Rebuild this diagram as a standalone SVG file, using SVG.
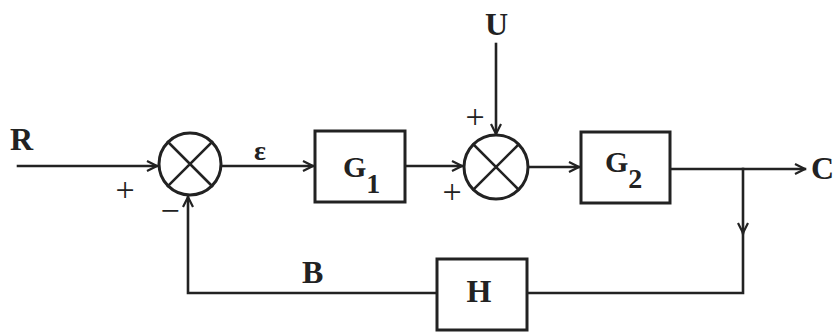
<svg xmlns="http://www.w3.org/2000/svg" width="834" height="333" viewBox="0 0 834 333">
<defs>
<style>
.ln{fill:none;stroke:#222;stroke-width:2.6;stroke-linecap:square}
.bx{fill:#fff;stroke:#222;stroke-width:3}
.sj{fill:#fff;stroke:#222;stroke-width:3}
.t{font-family:"Liberation Serif","DejaVu Serif",serif;font-weight:bold;fill:#222}
.lb{font-size:32px}
.sg{font-size:34px;font-family:"Liberation Serif","DejaVu Serif",serif;fill:#222;text-anchor:middle}
</style>
<marker id="ah" viewBox="0 0 12 12" refX="11" refY="6" markerWidth="12" markerHeight="12" markerUnits="userSpaceOnUse" orient="auto">
<path d="M1,1 L11,6 L1,11" fill="none" stroke="#222" stroke-width="2.2"/>
</marker>
</defs>
<rect width="834" height="333" fill="#fff"/>
<g id="connectors">
<path class="ln" d="M18,166 L157,166" marker-end="url(#ah)"/>
<path class="ln" d="M222,166 L313,166" marker-end="url(#ah)"/>
<path class="ln" d="M406,166 L462,166" marker-end="url(#ah)"/>
<path class="ln" d="M496,44 L496,134" marker-end="url(#ah)"/>
<path class="ln" d="M528,167 L579,167" marker-end="url(#ah)"/>
<path class="ln" d="M670,169 L805,169" marker-end="url(#ah)"/>
<path class="ln" d="M743,169 L743,233" marker-end="url(#ah)"/>
<path class="ln" d="M743,230 L743,293 L528,293"/>
<path class="ln" d="M437,293 L188,293 L188,197" marker-end="url(#ah)"/>
</g>
<g id="sum1">
<circle class="sj" cx="190" cy="164" r="31"/>
<path class="ln" d="M168,142 L212,186 M212,142 L168,186"/>
</g>
<g id="sum2">
<circle class="sj" cx="496" cy="167" r="32"/>
<path class="ln" d="M473.5,144.5 L518.5,189.5 M518.5,144.5 L473.5,189.5"/>
</g>
<g id="G1">
<rect class="bx" x="315" y="131" width="90" height="71"/>
<text class="t" x="343" y="177" font-size="30">G<tspan font-size="28" dy="16">1</tspan></text>
</g>
<g id="G2">
<rect class="bx" x="581" y="132" width="89" height="71"/>
<text class="t" x="605" y="172" font-size="30">G<tspan font-size="28" dy="16">2</tspan></text>
</g>
<g id="H">
<rect class="bx" x="437" y="259" width="90" height="71"/>
<text class="t lb" x="479" y="302" text-anchor="middle">H</text>
</g>
<g id="labels">
<text class="t lb" x="10" y="150">R</text>
<text class="t" x="254" y="160" font-size="28">ε</text>
<text class="t lb" x="485" y="35">U</text>
<text class="t lb" x="811" y="179">C</text>
<text class="t lb" x="302" y="283">B</text>
<text class="sg" x="125" y="201">+</text>
<text class="sg" x="170" y="222">−</text>
<text class="sg" x="475" y="128">+</text>
<text class="sg" x="452" y="203">+</text>
</g>
</svg>
